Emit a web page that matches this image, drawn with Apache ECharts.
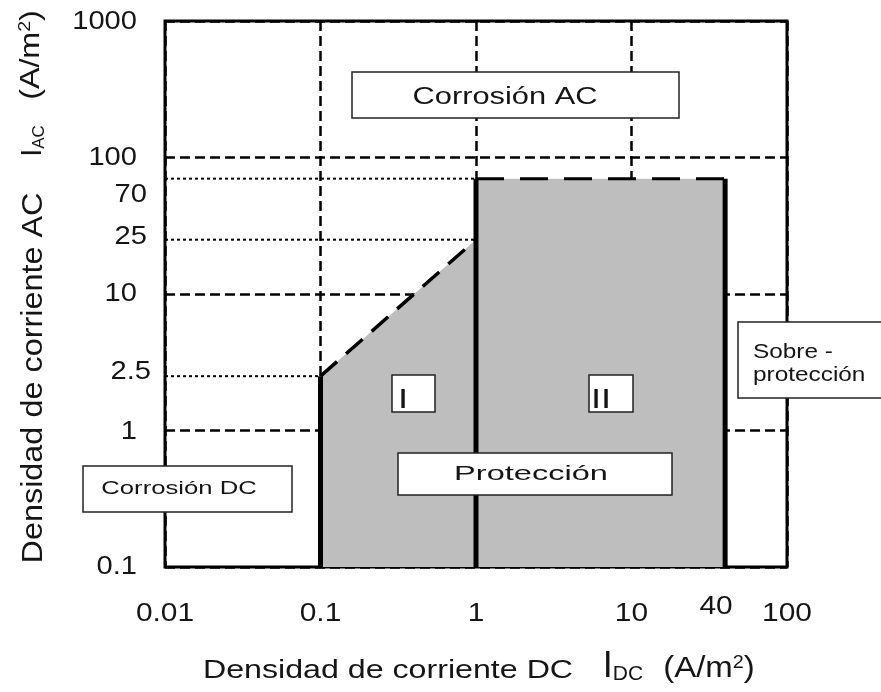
<!DOCTYPE html>
<html>
<head>
<meta charset="utf-8">
<script src="https://cdn.jsdelivr.net/npm/echarts/dist/echarts.min.js"></script>
<style>
  html, body { margin: 0; padding: 0; background: #fff; }
  #chart { width: 881px; height: 692px; }
</style>
</head>
<body>
<div id="chart"></div>
<script>
// Axis ranges, current densities in A/m²
const xRange = [0.01, 100];
const yRange = [0.1, 1000];

// Tick labels shown on each axis
const xTickLabels = [0.01, 0.1, 1, 10, 40, 100];
const yTickLabels = [1000, 100, 70, 25, 10, 2.5, 1, 0.1];

// Protection zones as [I_DC, I_AC] vertices
const zoneI = [[0.1, 0.1], [0.1, 2.5], [1, 25], [1, 0.1]];
const zoneII = [[1, 0.1], [1, 70], [40, 70], [40, 0.1]];

// Dotted reference levels: [I_AC level, I_DC where the guide ends]
const guideLevels = [[70, 1], [25, 1], [2.5, 0.1]];

const FONT = "'Liberation Sans', Arial, sans-serif";
const INK = '#151515';

// Small pixel nudges for crowded tick labels
const yTickNudge = { '1000': [0, 1], '70': [10, 16], '25': [10, -3], '2.5': [14, -4], '1': [0, 1] };
const xTickNudge = { '40': [-9, -7] };

const chart = echarts.init(document.getElementById('chart'), null, { renderer: 'canvas' });

function zoneSeries(points) {
  return {
    type: 'custom',
    coordinateSystem: 'cartesian2d',
    silent: true,
    clip: false,
    data: [points[0]],
    renderItem: (params, api) => ({
      type: 'polygon',
      shape: { points: points.map(p => api.coord(p)) },
      style: { fill: '#bebebe' }
    })
  };
}

function segment(points, lineStyle, z) {
  return {
    type: 'line',
    data: points,
    symbol: 'none',
    silent: true,
    z: z,
    lineStyle: Object.assign({ color: '#000' }, lineStyle)
  };
}

const series = [
  zoneSeries(zoneI),
  zoneSeries(zoneII),
  ...guideLevels.map(([level, xEnd]) =>
    segment([[xRange[0], level], [xEnd, level]], { width: 2, type: [3, 3] }, 3)),
  segment([zoneI[1], zoneI[2]], { width: 3.5, type: [22, 12] }, 4),
  segment([zoneII[1], zoneII[2]], { width: 3, type: [28, 16] }, 4),
  segment([zoneI[0], zoneI[1]], { width: 5 }, 5),
  segment([zoneII[0], zoneII[1]], { width: 5 }, 5),
  segment([zoneII[3], zoneII[2]], { width: 5 }, 5),
  {
    type: 'custom',
    coordinateSystem: 'cartesian2d',
    silent: true,
    clip: false,
    z: 6,
    data: yTickLabels.map(v => [xRange[0], v]),
    renderItem: (params, api) => {
      const v = api.value(1);
      const p = api.coord([api.value(0), v]);
      const n = yTickNudge[String(v)] || [0, 0];
      return {
        type: 'text',
        x: p[0] - 28 + n[0],
        y: p[1] + n[1],
        scaleX: 1.12,
        style: { text: String(v), fontFamily: FONT, fontSize: 26, fill: INK, align: 'right', verticalAlign: 'middle' }
      };
    }
  },
  {
    type: 'custom',
    coordinateSystem: 'cartesian2d',
    silent: true,
    clip: false,
    z: 6,
    data: xTickLabels.map(v => [v, yRange[0]]),
    renderItem: (params, api) => {
      const v = api.value(0);
      const p = api.coord([v, api.value(1)]);
      const n = xTickNudge[String(v)] || [0, 0];
      return {
        type: 'text',
        x: p[0] + n[0],
        y: p[1] + 47 + n[1],
        scaleX: 1.15,
        style: { text: String(v), fontFamily: FONT, fontSize: 26, fill: INK, align: 'center', verticalAlign: 'middle' }
      };
    }
  }
];

function box(x, y, w, h) {
  return {
    type: 'rect', z: 100,
    shape: { x: x, y: y, width: w, height: h },
    style: { fill: '#fff', stroke: '#222', lineWidth: 1.5 }
  };
}

function label(text, x, y, size, scaleX, align) {
  return {
    type: 'text', z: 101, x: x, y: y, scaleX: scaleX,
    style: { text: text, fontFamily: FONT, fontSize: size, fill: INK, align: align || 'center', verticalAlign: 'middle' }
  };
}

const graphic = [
  // Region annotations
  box(352, 72, 327, 46), label('Corrosión AC', 505, 98, 23, 1.34),
  box(83, 466, 209, 46), label('Corrosión DC', 179, 489, 19, 1.35),
  box(398, 453, 274, 42), label('Protección', 531, 474, 21, 1.55),
  box(738, 322, 146, 76),
  label('Sobre -', 753, 352, 21, 1.16, 'left'),
  label('protección', 753, 375, 21, 1.16, 'left'),
  box(392, 375, 43, 37), label('I', 398, 400, 28, 1.3, 'left'),
  box(589, 375, 44, 37), label('II', 591, 400, 28, 1.3, 'left'),

  // Horizontal axis title
  label('Densidad de corriente DC', 388, 671, 25, 1.287),
  {
    type: 'text', z: 101, x: 623, y: 667,
    style: {
      text: '{m|I}{s|DC}', align: 'center', verticalAlign: 'middle',
      rich: {
        m: { fontFamily: FONT, fontSize: 36, lineHeight: 36, fill: INK },
        s: { fontFamily: FONT, fontSize: 21, lineHeight: 21, verticalAlign: 'bottom', fill: INK }
      }
    }
  },
  {
    type: 'text', z: 101, x: 709, y: 669, scaleX: 1.1,
    style: {
      text: '{m|(A/m}{p|2}{m|)}', align: 'center', verticalAlign: 'middle',
      rich: {
        m: { fontFamily: FONT, fontSize: 30, lineHeight: 30, fill: INK },
        p: { fontFamily: FONT, fontSize: 18, lineHeight: 18, verticalAlign: 'top', fill: INK }
      }
    }
  },

  // Vertical axis title
  {
    type: 'text', z: 101, x: 34, y: 378, rotation: Math.PI / 2, scaleX: 1.08,
    style: { text: 'Densidad de corriente AC', fontFamily: FONT, fontSize: 30, fill: INK, align: 'center', verticalAlign: 'middle' }
  },
  {
    type: 'text', z: 101, x: 33, y: 141, rotation: Math.PI / 2,
    style: {
      text: '{m|I}{s|AC}', align: 'center', verticalAlign: 'middle',
      rich: {
        m: { fontFamily: FONT, fontSize: 29, lineHeight: 29, fill: INK },
        s: { fontFamily: FONT, fontSize: 17, lineHeight: 15, verticalAlign: 'bottom', fill: INK }
      }
    }
  },
  {
    type: 'text', z: 101, x: 31, y: 55, rotation: Math.PI / 2, scaleX: 1.15,
    style: {
      text: '{m|(A/m}{p|2}{m|)}', align: 'center', verticalAlign: 'middle',
      rich: {
        m: { fontFamily: FONT, fontSize: 28, lineHeight: 28, fill: INK },
        p: { fontFamily: FONT, fontSize: 17, lineHeight: 17, verticalAlign: 'top', fill: INK }
      }
    }
  }
];

const gridLine = { show: true, lineStyle: { color: '#000', width: 2.5, type: [10, 5] } };

chart.setOption({
  animation: false,
  backgroundColor: '#fff',
  grid: {
    left: 165, right: 94, top: 21, bottom: 125,
    show: true, borderColor: '#000', borderWidth: 3, backgroundColor: '#fff'
  },
  xAxis: {
    type: 'log', logBase: 10, min: xRange[0], max: xRange[1],
    axisLine: { show: false }, axisTick: { show: false }, axisLabel: { show: false },
    splitLine: gridLine
  },
  yAxis: {
    type: 'log', logBase: 10, min: yRange[0], max: yRange[1],
    axisLine: { show: false }, axisTick: { show: false }, axisLabel: { show: false },
    splitLine: gridLine
  },
  series: series,
  graphic: graphic
});
</script>
</body>
</html>
